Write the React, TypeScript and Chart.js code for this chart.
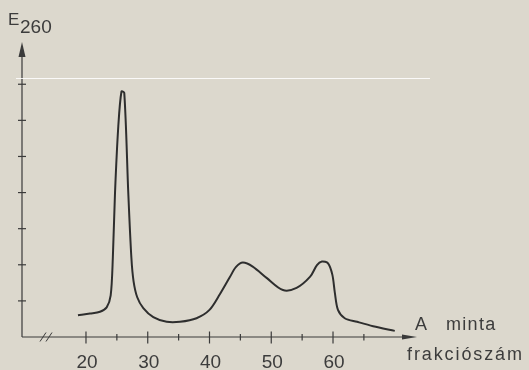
import React, { useEffect, useRef } from "react";
import { Chart, registerables } from "chart.js";

Chart.register(...registerables);

// Fraction number (A minta frakciószám) and absorbance E260
const fractions = [
  18.7, 20.65, 22.27, 23.35, 24.0, 24.35, 24.7, 25.23, 25.75, 26.2, 26.85, 27.35,
  27.7, 28.3, 29.28, 30.9, 33.07, 35.22, 37.9, 40.0, 41.7, 43.3, 44.3, 45.4,
  47.0, 49.3, 51.9, 54.1, 56.3, 57.4, 58.2, 59.2, 59.9, 60.3, 60.8, 61.9, 63.9,
  66.5, 70.0,
];
const e260 = [
  0.6, 0.65, 0.7, 0.82, 1.15, 2.2, 3.99, 5.83, 6.8, 6.76, 3.99, 2.2, 1.55, 1.1,
  0.8, 0.55, 0.42, 0.42, 0.52, 0.75, 1.19, 1.66, 1.94, 2.06, 1.95, 1.63, 1.3,
  1.36, 1.67, 1.99, 2.09, 2.04, 1.72, 1.22, 0.75, 0.52, 0.42, 0.3, 0.17,
];

const xMajorTicks = [20, 30, 40, 50, 60];
const xTickLabels = ["20", "30", "40", "50", "60"];
const xMinorTicks = [25, 35, 45, 55, 65];
const yTicks = [1, 2, 3, 4, 5, 6, 7];

const yTitleMain = "E";
const yTitleSub = "260";
const xTitleLine1 = ["A", "minta"];
const xTitleLine2 = "frakciószám";

const BG = "#dcd8cd";
const INK = "#2e2e2e";
const FONT = "'Liberation Sans', 'DejaVu Sans', sans-serif";

const axesPlugin = {
  id: "handAxes",
  beforeDraw(chart: any) {
    const { ctx, width, height } = chart;
    ctx.save();
    ctx.fillStyle = BG;
    ctx.fillRect(0, 0, width, height);
    ctx.restore();
  },
  beforeDatasetsDraw(chart: any) {
    const { ctx, chartArea, scales } = chart;
    const xs = scales.x;
    const ys = scales.y;
    const left = chartArea.left;
    const bottom = chartArea.bottom;
    const top = chartArea.top;
    const right = chartArea.right;
    ctx.save();
    ctx.strokeStyle = "#3a3a3a";
    ctx.fillStyle = "#3a3a3a";
    ctx.lineWidth = 1.2;

    // y axis
    ctx.beginPath();
    ctx.moveTo(left, bottom);
    ctx.lineTo(left, top + 10);
    ctx.stroke();
    ctx.beginPath();
    ctx.moveTo(left, top);
    ctx.lineTo(left - 3.5, top + 15);
    ctx.lineTo(left + 3.5, top + 15);
    ctx.closePath();
    ctx.fill();

    // x axis
    ctx.beginPath();
    ctx.moveTo(left, bottom);
    ctx.lineTo(right - 8, bottom);
    ctx.stroke();
    ctx.beginPath();
    ctx.moveTo(right, bottom);
    ctx.lineTo(right - 15, bottom - 2.5);
    ctx.lineTo(right - 15, bottom + 2.5);
    ctx.closePath();
    ctx.fill();

    // axis break "//"
    ctx.lineWidth = 1;
    [43, 49].forEach((bx) => {
      ctx.beginPath();
      ctx.moveTo(bx - 3, bottom + 4.5);
      ctx.lineTo(bx + 3, bottom - 4.5);
      ctx.stroke();
    });

    // y ticks
    ctx.lineWidth = 1.2;
    yTicks.forEach((v) => {
      const py = ys.getPixelForValue(v);
      ctx.beginPath();
      ctx.moveTo(left - 4, py);
      ctx.lineTo(left + 4, py);
      ctx.stroke();
    });

    // x ticks
    xMajorTicks.forEach((v) => {
      const px = xs.getPixelForValue(v);
      ctx.beginPath();
      ctx.moveTo(px, bottom - 5.5);
      ctx.lineTo(px, bottom + 6.5);
      ctx.stroke();
    });
    xMinorTicks.forEach((v) => {
      const px = xs.getPixelForValue(v);
      ctx.beginPath();
      ctx.moveTo(px, bottom - 3);
      ctx.lineTo(px, bottom + 3.5);
      ctx.stroke();
    });

    // tick labels
    ctx.fillStyle = "#3c3c3c";
    ctx.font = `19px ${FONT}`;
    ctx.textAlign = "center";
    ctx.textBaseline = "alphabetic";
    xMajorTicks.forEach((v, i) => {
      ctx.fillText(xTickLabels[i], xs.getPixelForValue(v) + 1, 368);
    });

    // y title
    ctx.textAlign = "left";
    ctx.font = `17px ${FONT}`;
    ctx.fillText(yTitleMain, 8, 25);
    ctx.font = `19px ${FONT}`;
    ctx.fillText(yTitleSub, 20, 33);

    // x title
    (ctx as any).letterSpacing = "1.3px";
    ctx.font = `18px ${FONT}`;
    ctx.fillText(xTitleLine1[0], 415, 330);
    ctx.fillText(xTitleLine1[1], 446, 330);
    (ctx as any).letterSpacing = "1.9px";
    ctx.fillText(xTitleLine2, 407, 360);
    (ctx as any).letterSpacing = "0px";

    // scan artifact: thin light line
    ctx.strokeStyle = "rgba(255,255,255,0.85)";
    ctx.lineWidth = 1;
    ctx.beginPath();
    ctx.moveTo(16, 78.5);
    ctx.lineTo(430, 78.5);
    ctx.stroke();

    ctx.restore();
  },
};

export default function App() {
  const ref = useRef<HTMLCanvasElement | null>(null);
  useEffect(() => {
    if (!ref.current) return;
    const chart = new Chart(ref.current, {
      type: "line",
      data: {
        datasets: [
          {
            data: fractions.map((f, i) => ({ x: f, y: e260[i] })),
            borderColor: INK,
            borderWidth: 2,
            pointRadius: 0,
            fill: false,
            tension: 0.3,
          },
        ],
      },
      options: {
        animation: false,
        responsive: false,
        events: [],
        layout: { padding: { left: 22, right: 112, top: 42, bottom: 33 } },
        plugins: { legend: { display: false }, tooltip: { enabled: false }, title: { display: false } },
        scales: {
          x: { type: "linear", min: 9.64, max: 73.6, display: false },
          y: { type: "linear", min: 0, max: 8.17, display: false },
        },
      },
      plugins: [axesPlugin],
    });
    return () => chart.destroy();
  }, []);
  return (
    <div style={{ position: "fixed", left: 0, top: 0, width: 529, height: 370, background: BG }}>
      <canvas ref={ref} width={529} height={370} style={{ display: "block" }} />
    </div>
  );
}
